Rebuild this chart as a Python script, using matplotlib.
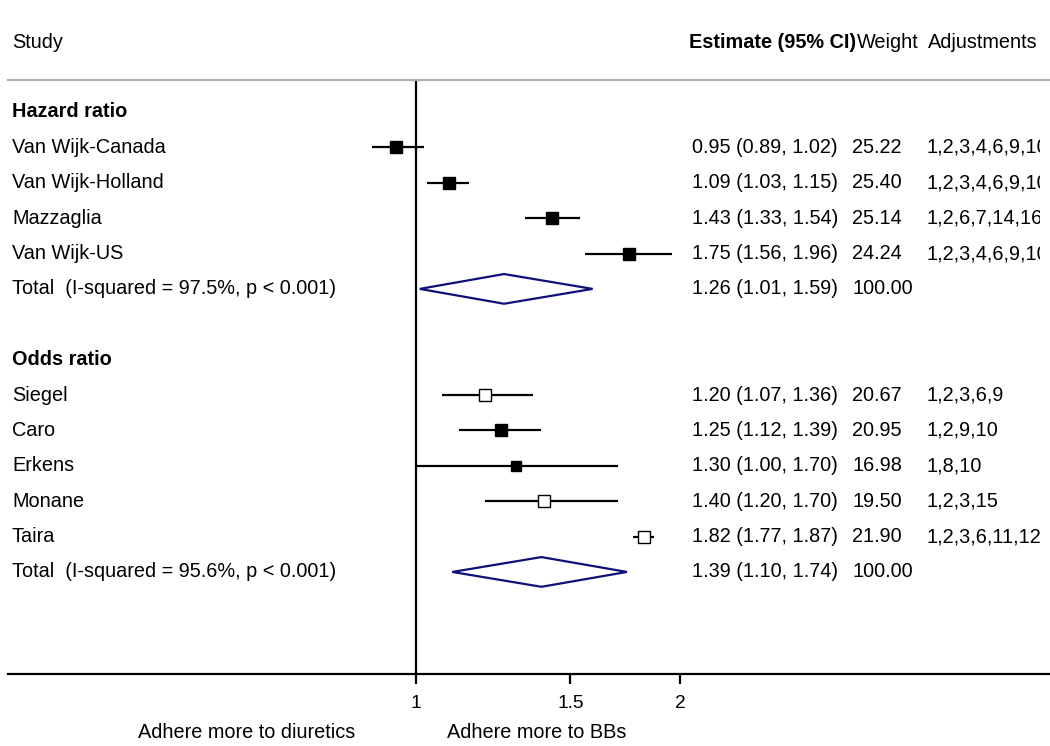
import numpy as np
import matplotlib
matplotlib.use("Agg")
import matplotlib.pyplot as plt
from matplotlib.transforms import blended_transform_factory, Bbox
from matplotlib.patches import Polygon

plt.rcParams['font.family'] = ['Liberation Sans', 'DejaVu Sans']

# ---------------- data ----------------
groups = ["Hazard ratio", "Odds ratio"]
hr_studies = ["Van Wijk-Canada", "Van Wijk-Holland", "Mazzaglia", "Van Wijk-US"]
hr_est = [0.95, 1.09, 1.43, 1.75]
hr_lo = [0.89, 1.03, 1.33, 1.56]
hr_hi = [1.02, 1.15, 1.54, 1.96]
hr_weight = [25.22, 25.40, 25.14, 24.24]
hr_adjust = ["1,2,3,4,6,9,10", "1,2,3,4,6,9,10", "1,2,6,7,14,16", "1,2,3,4,6,9,10"]
hr_open = [False, False, False, False]
hr_total = (1.26, 1.01, 1.59)
hr_total_label = "Total  (I-squared = 97.5%, p < 0.001)"

or_studies = ["Siegel", "Caro", "Erkens", "Monane", "Taira"]
or_est = [1.20, 1.25, 1.30, 1.40, 1.82]
or_lo = [1.07, 1.12, 1.00, 1.20, 1.77]
or_hi = [1.36, 1.39, 1.70, 1.70, 1.87]
or_weight = [20.67, 20.95, 16.98, 19.50, 21.90]
or_adjust = ["1,2,3,6,9", "1,2,9,10", "1,8,10", "1,2,3,15", "1,2,3,6,11,12"]
or_open = [True, False, False, True, True]
or_total = (1.39, 1.10, 1.74)
or_total_label = "Total  (I-squared = 95.6%, p < 0.001)"

xticks = [1, 1.5, 2]
xtick_labels = ["1", "1.5", "2"]
left_note = "Adhere more to diuretics"
right_note = "Adhere more to BBs"

# ---------------- figure ----------------
W, H = 1050, 746
fig = plt.figure(figsize=(W / 100, H / 100), dpi=100)
ax_left, ax_right = 8, 1050
ax_top, ax_bot = 80, 674
ax = fig.add_axes([ax_left / W, (H - ax_bot) / H, (ax_right - ax_left) / W, (ax_bot - ax_top) / H])
ax.set_xscale('log')
# 1 -> px 416, 2 -> px 680
ppl = (680 - 416) / np.log(2)
ax.set_xlim(np.exp((ax_left - 416) / ppl), np.exp((ax_right - 416) / ppl))
row_h = 35.38
ax.set_ylim((ax_bot - 112) / row_h, (ax_top - 112) / row_h)

FS = 14.3
navy = '#10107a'
clip = Bbox([[0, 0], [1040, H]])

for s in ['left', 'right']:
    ax.spines[s].set_visible(False)
ax.spines['top'].set_color('#b0b0b0')
ax.spines['top'].set_linewidth(1.6)
ax.spines['bottom'].set_linewidth(1.6)
ax.set_xticks(xticks)
ax.set_xticklabels(xtick_labels, fontsize=FS - 0.5)
ax.xaxis.set_minor_locator(matplotlib.ticker.NullLocator())
ax.tick_params(axis='x', length=7, width=1.6, pad=8)
ax.set_yticks([])

ax.axvline(1, color='black', lw=1.6, zorder=1)

tr = blended_transform_factory(fig.transFigure, ax.transData)
col_study, col_est, col_w, col_adj = 12 / W, 692 / W, 852 / W, 927 / W

def px2fy(p):
    return (H - p) / H

fig.text(12 / W, px2fy(42), "Study", fontsize=FS, va='center', ha='left')
fig.text(689 / W, px2fy(42), "Estimate (95% CI)", fontsize=FS, fontweight='bold', va='center', ha='left')
fig.text(857 / W, px2fy(42), "Weight", fontsize=FS, va='center', ha='left')
fig.text(928 / W, px2fy(42), "Adjustments", fontsize=FS, va='center', ha='left')

def draw_group(start, title, studies, est, lo, hi, wt, adj, openm, total, total_label):
    ax.text(col_study, start, title, transform=tr, fontsize=FS, fontweight='bold', va='center')
    for i, name in enumerate(studies):
        y = start + 1 + i
        ax.plot([lo[i], hi[i]], [y, y], color='black', lw=1.6, zorder=2, solid_capstyle='butt')
        side_px = 2.55 * np.sqrt(wt[i])
        ax.plot([est[i]], [y], marker='s', markersize=side_px * 0.72,
                markerfacecolor='white' if openm[i] else 'black',
                markeredgecolor='black', markeredgewidth=1.0, zorder=3, linestyle='none')
        ax.text(col_study, y, name, transform=tr, fontsize=FS, va='center')
        ax.text(col_est, y, f"{est[i]:.2f} ({lo[i]:.2f}, {hi[i]:.2f})", transform=tr, fontsize=FS, va='center')
        ax.text(col_w, y, f"{wt[i]:.2f}", transform=tr, fontsize=FS, va='center')
        t = ax.text(col_adj, y, adj[i], transform=tr, fontsize=FS, va='center')
        t.set_clip_box(clip)
        t.set_clip_on(True)
    y = start + 1 + len(studies)
    e, l, h = total
    hh = 0.42
    ax.add_patch(Polygon([[l, y], [e, y - hh], [h, y], [e, y + hh]], closed=True,
                         facecolor='white', edgecolor=navy, lw=1.6, zorder=3))
    ax.text(col_study, y, total_label, transform=tr, fontsize=FS, va='center')
    ax.text(col_est, y, f"{e:.2f} ({l:.2f}, {h:.2f})", transform=tr, fontsize=FS, va='center')
    ax.text(col_w, y, "100.00", transform=tr, fontsize=FS, va='center')

draw_group(0, groups[0], hr_studies, hr_est, hr_lo, hr_hi, hr_weight, hr_adjust, hr_open, hr_total, hr_total_label)
draw_group(7, groups[1], or_studies, or_est, or_lo, or_hi, or_weight, or_adjust, or_open, or_total, or_total_label)

fig.text(247 / W, px2fy(733), left_note, fontsize=FS, ha='center', va='center')
fig.text(537 / W, px2fy(733), right_note, fontsize=FS, ha='center', va='center')

fig.savefig("out.png", dpi=100)
